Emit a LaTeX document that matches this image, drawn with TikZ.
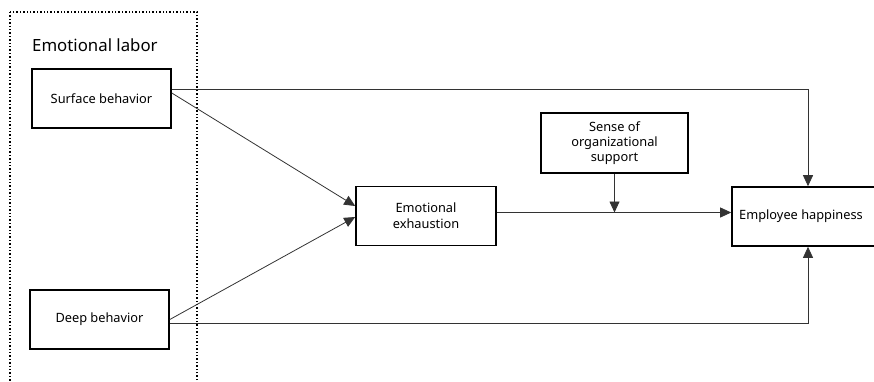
\documentclass[tikz,border=0pt]{standalone}
\usepackage{fontspec}
\setmainfont{Noto Sans}
\usetikzlibrary{positioning, arrows.meta, calc}
\tikzset{
    x=1pt, y=-1pt,
    font=\fontsize{12.8}{16}\selectfont,
    box/.style={          % variable boxes
        draw=black,
        line width=1.6pt,
        align=center,
        inner sep=2pt,
        minimum height=59pt
    },
    path/.style={         % effect arrows
        draw=black!80,
        line width=0.8pt,
        -{Triangle[length=11pt,width=10pt]}
    },
    group/.style={        % dotted frame
        draw=black,
        dotted,
        line width=1.4pt
    }
}
\begin{document}
\begin{tikzpicture}
    \useasboundingbox (0,0) rectangle (874,381);
    \draw[group] (10,12) rectangle (197,395);
    \node[anchor=west, inner sep=0pt, font=\fontsize{16.8}{20}\selectfont] (labor) at (32,45) {Emotional labor};

    \node[box, minimum width=139pt] (surf) at (101.5,98.5) {Surface behavior};
    \node[box, minimum width=139pt] (deep) at (99.5,319.5) {Deep behavior};
    \node[box, minimum width=140pt] (exh) at (426,216) {Emotional\\exhaustion};
    \node[box, minimum width=147pt, minimum height=60pt, font=\fontsize{12.8}{15}\selectfont] (sense) at (614.5,143) {Sense of\\organizational\\support};
    \node[box, minimum width=152pt] (happy) at (808,216.5) {Employee happiness\hspace*{14pt}};

    \draw[path] ([yshift=9.5pt]surf.east) -| (happy.north);
    \draw[path] ([yshift=-3.5pt]deep.east) -| (happy.south);
    \draw[path] ([yshift=5.5pt]surf.east) -- ([yshift=10pt]exh.west);
    \draw[path] (deep.east) -- ([yshift=-1pt]exh.west);
    \coordinate (mid) at ([yshift=3.5pt]exh.east);
    \draw[path] (mid) -- (mid -| happy.west);
    \draw[path] (sense.south) -- (sense.south |- mid);
\end{tikzpicture}
\end{document}
